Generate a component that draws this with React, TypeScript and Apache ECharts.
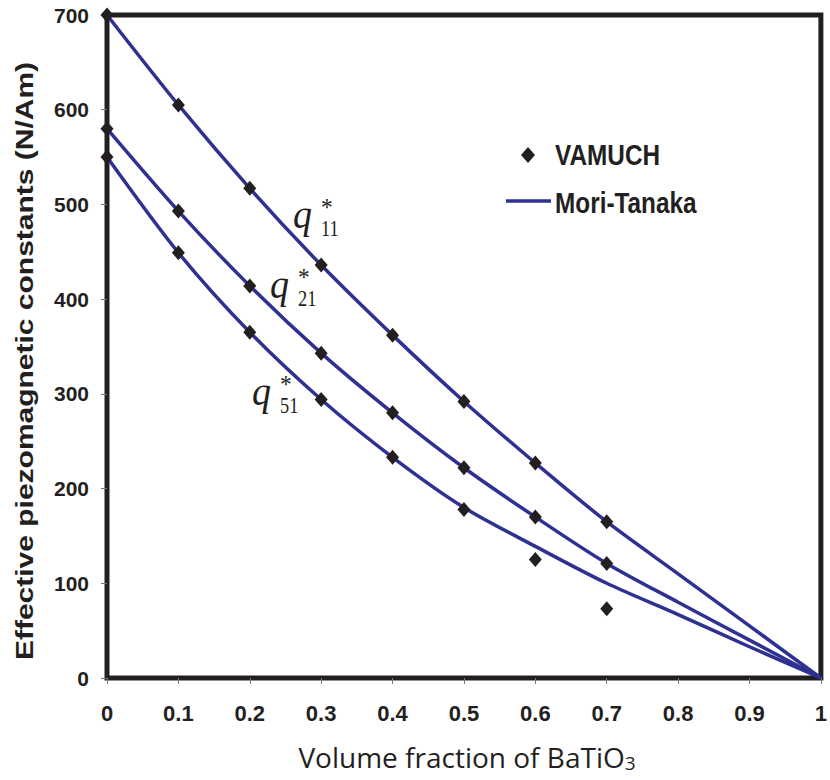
import React, { useEffect, useRef } from 'react';
import * as echarts from 'echarts';

// ---- data ----
const xTickLabels = ['0', '0.1', '0.2', '0.3', '0.4', '0.5', '0.6', '0.7', '0.8', '0.9', '1'];
const yTickLabels = ['0', '100', '200', '300', '400', '500', '600', '700'];

const vamuchX = [0, 0.1, 0.2, 0.3, 0.4, 0.5, 0.6, 0.7];
const vamuchQ11 = [700, 605, 517, 436, 362, 292, 227, 165];
const vamuchQ21 = [580, 493, 414, 343, 280, 222, 170, 121];
const vamuchQ51 = [550, 449, 365, 294, 233, 178, 125, 73];

const moriX = [0, 0.1, 0.2, 0.3, 0.4, 0.5, 0.6, 0.7, 0.8, 0.9, 1];
const moriQ11 = [700, 605, 517, 436, 362, 292, 227, 165, 110, 55, 0];
const moriQ21 = [580, 493, 414, 343, 280, 222, 170, 121, 80, 40, 0];
const moriQ51 = [550, 449, 365, 294, 233, 180, 139, 100, 67, 33, 0];

const LINE_COLOR = '#2e3192';
const MARK_COLOR = '#231f20';
const SANS = "'Liberation Sans', Arial, sans-serif";

function pairs(xs: number[], ys: number[]) {
  return xs.map((x, i) => [x, ys[i]]);
}

export default function App() {
  const ref = useRef<HTMLDivElement>(null);
  useEffect(() => {
    document.body.style.margin = '0';
    const chart = echarts.init(ref.current!, null, { renderer: 'svg' });
    const lineSeries = (data: number[][]) => ({
      type: 'line',
      name: 'Mori-Tanaka',
      data,
      smooth: 0.3,
      showSymbol: false,
      symbol: 'none',
      lineStyle: { color: LINE_COLOR, width: 3.5 },
      z: 3,
    });
    const scatterSeries = (data: number[][]) => ({
      type: 'scatter',
      name: 'VAMUCH',
      data,
      symbol: 'diamond',
      symbolSize: [13, 15],
      itemStyle: { color: MARK_COLOR, opacity: 1 },
      z: 4,
    });
    const qLabel = (x: number, y: number, sub: string) => ({
      type: 'group',
      children: [
        {
          type: 'text', x, y, scaleX: 0.95,
          style: { text: 'q', font: "italic 40px 'Liberation Serif', 'Times New Roman', serif", fill: MARK_COLOR, align: 'left', verticalAlign: 'middle' },
        },
        {
          type: 'text', x: x + 28, y: y - 7, scaleX: 0.9,
          style: { text: '*', font: "26px 'Liberation Serif', 'Times New Roman', serif", fill: MARK_COLOR, align: 'left', verticalAlign: 'middle' },
        },
        {
          type: 'text', x: x + 28, y: y + 14, scaleX: 0.8,
          style: { text: sub, font: "23px 'Liberation Serif', 'Times New Roman', serif", fill: MARK_COLOR, align: 'left', verticalAlign: 'middle' },
        },
      ],
    });
    chart.setOption({
      animation: false,
      backgroundColor: '#ffffff',
      grid: {
        left: 107, right: 4, top: 15, bottom: 102,
        show: true, borderColor: MARK_COLOR, borderWidth: 5, backgroundColor: 'transparent',
      },
      xAxis: {
        type: 'value', min: 0, max: 1, interval: 0.1,
        axisLine: { show: false },
        axisTick: { show: true, inside: false, length: 6, lineStyle: { color: '#777', width: 1 } },
        splitLine: { show: false },
        axisLabel: {
          margin: 24,
          formatter: (v: number) => xTickLabels[Math.round(v * 10)],
          fontFamily: SANS, fontWeight: 'bold', fontSize: 22, color: MARK_COLOR,
        },
      },
      yAxis: {
        type: 'value', min: 0, max: 700, interval: 100,
        axisLine: { show: false },
        axisTick: { show: true, inside: false, length: 6, lineStyle: { color: '#777', width: 1 } },
        splitLine: { show: false },
        axisLabel: {
          margin: 18,
          formatter: (v: number) => yTickLabels[Math.round(v / 100)],
          fontFamily: SANS, fontWeight: 'bold', fontSize: 21, color: MARK_COLOR,
        },
      },
      series: [
        lineSeries(pairs(moriX, moriQ11)),
        lineSeries(pairs(moriX, moriQ21)),
        lineSeries(pairs(moriX, moriQ51)),
        scatterSeries(pairs(vamuchX, vamuchQ11)),
        scatterSeries(pairs(vamuchX, vamuchQ21)),
        scatterSeries(pairs(vamuchX, vamuchQ51)),
      ],
      graphic: [
        {
          type: 'text', x: 25, y: 361, rotation: Math.PI / 2, scaleY: 0.78,
          style: {
            text: 'Effective piezomagnetic constants (N/Am)',
            font: `bold 30px ${SANS}`,
            fill: MARK_COLOR, align: 'center', verticalAlign: 'middle',
          },
        },
        {
          type: 'text', x: 467, y: 757, scaleX: 1,
          style: {
            text: 'Volume fraction of BaTiO{sub|3}',
            font: "28px 'Open Sans', sans-serif",
            fill: MARK_COLOR, align: 'center', verticalAlign: 'middle',
            rich: { sub: { fontSize: 19, fontFamily: 'Open Sans', fill: MARK_COLOR, padding: [12, 0, 0, 0] } },
          },
        },
        {
          type: 'polygon',
          shape: { points: [[521, 155], [528, 147], [535, 155], [528, 163]] },
          style: { fill: MARK_COLOR },
        },
        {
          type: 'text', x: 555, y: 155, scaleX: 0.84,
          style: { text: 'VAMUCH', font: `bold 29px ${SANS}`, fill: MARK_COLOR, align: 'left', verticalAlign: 'middle' },
        },
        {
          type: 'line',
          shape: { x1: 506, y1: 201, x2: 551, y2: 201 },
          style: { stroke: LINE_COLOR, lineWidth: 3.5 },
        },
        {
          type: 'text', x: 555, y: 203, scaleX: 0.84,
          style: { text: 'Mori-Tanaka', font: `bold 29px ${SANS}`, fill: MARK_COLOR, align: 'left', verticalAlign: 'middle' },
        },
        qLabel(293, 214, '11'),
        qLabel(270, 284, '21'),
        qLabel(252, 391, '51'),
      ],
    });
    return () => chart.dispose();
  }, []);
  return <div ref={ref} style={{ position: 'absolute', left: 0, top: 0, width: 830, height: 780 }} />;
}
